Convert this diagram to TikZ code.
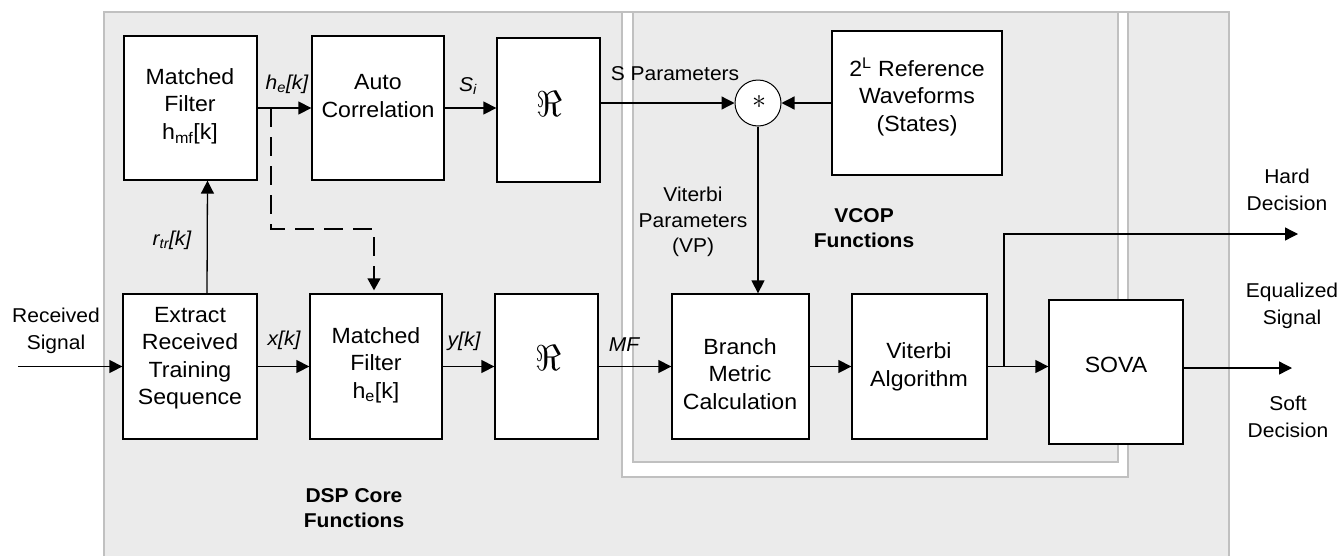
\documentclass[tikz,border=0pt]{standalone}
\usepackage{fontspec}
\setmainfont{Liberation Sans}[FakeStretch=1.05]
\usetikzlibrary{arrows.meta}
\definecolor{panel}{HTML}{EBEBEB}
\definecolor{panelline}{HTML}{C0C0C0}

\begin{document}
\begin{tikzpicture}[x=1pt,y=-1pt,
  blk/.style={draw=black, line width=1.3pt, fill=white, inner sep=0pt},
  btxt/.style={align=center, inner sep=0pt, font=\fontsize{22}{27.5}\selectfont},
  lbl/.style={align=center, inner sep=0pt, font=\fontsize{20}{27.5}\selectfont},
  vplbl/.style={align=center, inner sep=0pt, font=\fontsize{20}{25.5}\selectfont},
  ilbl/.style={inner sep=0pt, font=\fontsize{20}{24}\selectfont\itshape},
  grp/.style={align=center, inner sep=0pt, font=\fontsize{20}{24.5}\selectfont\bfseries},
  realpart/.style={inner sep=0pt, font=\fontsize{20}{20}\selectfont},
  arr/.style={line width=1.3pt, -{Triangle[length=13pt,width=13pt]}},
  dsh/.style={line width=1.3pt, dash pattern=on 19pt off 10pt, -{Triangle[length=12pt,width=13pt]}},
  pnl/.style={draw=panelline, line width=1.2pt}
]
\useasboundingbox (0,0) rectangle (1341,555);

% panels: DSP core (outer), VCOP functions (framed inner)
\fill[panel] (104,12) rectangle (1229,557);
\draw[pnl] (104,557) -- (104,12) -- (1229,12) -- (1229,557);
\draw[pnl, fill=white] (622,12) rectangle (1128,477);
\draw[pnl, fill=panel] (633,12) rectangle (1118,462);

% blocks
\node[blk, minimum width=133pt, minimum height=144pt] (hmf)  at (190.5,108) {};
\node[blk, minimum width=132pt, minimum height=144pt] (ac)   at (378,108) {};
\node[blk, minimum width=103pt, minimum height=144pt] (re1)  at (548.5,110) {};
\node[blk, minimum width=170pt, minimum height=144pt] (ref)  at (917,103) {};
\node[blk, minimum width=134pt, minimum height=145pt] (ext)  at (190,366.5) {};
\node[blk, minimum width=132pt, minimum height=145pt] (he)   at (376,366.5) {};
\node[blk, minimum width=103pt, minimum height=145pt] (re2)  at (546.5,366.5) {};
\node[blk, minimum width=137pt, minimum height=145pt] (br)   at (740.5,366.5) {};
\node[blk, minimum width=135pt, minimum height=145pt] (vit)  at (919.5,366.5) {};
\node[blk, minimum width=134pt, minimum height=144pt] (sova) at (1116,372) {};
\node[draw=black, line width=1pt, fill=white, circle, minimum size=46pt, inner sep=0pt] (circ) at (758,103) {};
\node[inner sep=0pt] (circ-t) at (759,102) {\resizebox{14pt}{!}{$\ast$}};

% block texts
\node[btxt] (hmf-t)  at (190,106) {Matched\\Filter\\h\textsubscript{mf}[k]};
\node[btxt] (ac-t)   at (378,96) {Auto\\Correlation};
\node[realpart] (re1-t) at (549,103.5) {\resizebox{26pt}{!}{$\Re$}};
\node[btxt] (ref-t)  at (917,97) {2\textsuperscript{L} Reference\\Waveforms\\(States)};
\node[btxt] (ext-t)  at (190,358) {Extract\\Received\\Training\\Sequence};
\node[btxt] (he-t)   at (376,365) {Matched\\Filter\\h\textsubscript{e}[k]};
\node[realpart] (re2-t) at (548,358) {\resizebox{26pt}{!}{$\Re$}};
\node[btxt] (br-t)   at (740,374) {Branch\\Metric\\Calculation};
\node[btxt] (vit-t)  at (919,367) {Viterbi\\Algorithm};
\node[btxt] (sova-t) at (1116,365) {SOVA};

% free ends and taps
\coordinate (rs)   at (18,366.5);
\coordinate (hd)   at (1298,234);
\coordinate (so)   at (1292,368);
\coordinate (tap)  at (1004,366.5);
\coordinate (dtap) at (271,108);
\coordinate (dlev) at (0,229);

% connectors
\draw[arr] (rs) -- (ext.west);
\draw[arr] ([xshift=17pt]ext.north) -- ([xshift=17pt]hmf.south);
\draw[arr] (hmf.east) -- (ac.west);
\draw[arr] (ac.east) -- (ac.east -| re1.west);
\draw[arr] (circ.west -| re1.east) -- (circ.west);
\draw[arr] (ref.west) -- (circ.east);
\draw[arr] (circ.south) -- (circ.south |- br.north);
\draw[arr] (ext.east) -- (he.west);
\draw[arr] (he.east) -- (re2.west);
\draw[arr] (re2.east) -- (br.west);
\draw[arr] (br.east) -- (vit.west);
\draw[arr] (vit.east) -- (vit.east -| sova.west);
\draw[arr] (vit.east -| tap) |- (hd);
\draw[arr] (sova.east |- so) -- (so);
\draw[dsh] (dtap) -- (dtap |- dlev) -- ([xshift=-2pt]he.north |- dlev) -- ([xshift=-2pt,yshift=3pt]he.north);

% signal labels
\node[ilbl] (l-he)  at (287,84)  {h\textsubscript{e}[k]};
\node[ilbl] (l-si)  at (468,86)  {S\textsubscript{i}};
\node[ilbl] (l-rtr) at (172,240) {r\textsubscript{tr}[k]};
\node[ilbl] (l-x)   at (284,340) {x[k]};
\node[ilbl] (l-y)   at (464,341) {y[k]};
\node[ilbl] (l-mf)  at (624,345) {MF};
\node[lbl] (l-sp)   at (675,74)  {S Parameters};
\node[vplbl] (l-vp) at (693,222) {Viterbi\\Parameters\\(VP)};
\node[lbl] (l-rs)   at (56,331)  {Received\\Signal};
\node[lbl] (l-hd)   at (1287,190) {Hard\\Decision};
\node[lbl] (l-eq)   at (1292,306) {Equalized\\Signal};
\node[lbl] (l-sd)   at (1288,417) {Soft\\Decision};

% group titles
\node[grp] (g-vcop) at (864,228) {VCOP\\Functions};
\node[grp] (g-dsp)  at (354,508) {DSP Core\\Functions};
\end{tikzpicture}
\end{document}
